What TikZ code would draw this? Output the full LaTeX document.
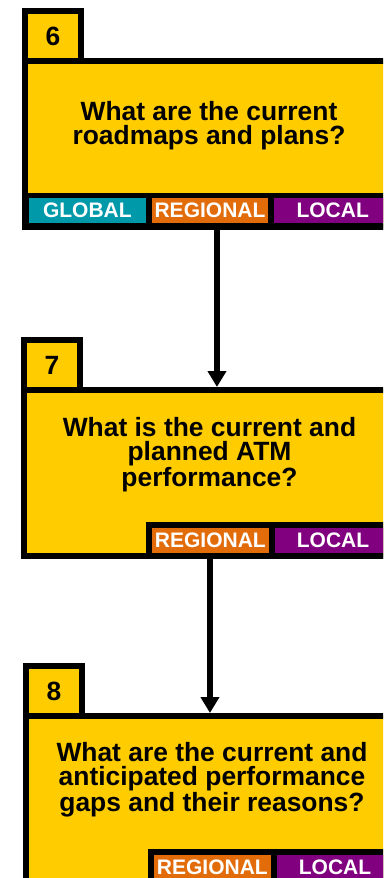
\documentclass[tikz,border=0pt]{standalone}
\usepackage{fontspec}
\setmainfont{Liberation Sans}
\usetikzlibrary{arrows.meta, positioning}

\definecolor{boxyellow}{HTML}{FFCC00}
\definecolor{tagteal}{HTML}{0099AA}
\definecolor{tagorange}{HTML}{E36C0A}
\definecolor{tagpurple}{HTML}{800080}

\begin{document}
\begin{tikzpicture}[
    x=0.75pt, y=-0.75pt,
    qbox/.style={draw, line width=4.5pt, fill=boxyellow, inner sep=0pt, anchor=north west, minimum width=276.75pt, minimum height=124.5pt},
    tab/.style={draw, line width=4.5pt, fill=boxyellow, inner sep=0pt, anchor=north west, minimum width=42pt, minimum height=37.5pt, font=\fontsize{19.8}{18}\selectfont\bfseries},
    question/.style={align=center, font=\fontsize{19.8}{18}\selectfont\bfseries},
    strip/.style={fill=black, inner sep=0pt, outer sep=0pt, anchor=north west, minimum width=281.25pt},
    tag/.style={fill=#1, text=white, inner sep=0pt, outer sep=0pt, minimum width=87.5pt, minimum height=18.5pt, font=\fontsize{15.75}{18}\selectfont\bfseries},
    arrow/.style={-{Triangle[width=13.5pt,length=12pt]}, line width=4.2pt}
]
\useasboundingbox (0,0) rectangle (383,878);
\clip (0,0) rectangle (383,878);

% === STEP 6 ===
\node[tab] (tab6) at (22,8) {6};
\node[qbox] (q6) at (22,58) {};
\node[strip, minimum height=27.75pt] (strip6) at (22,193) {};
\node[tag=tagteal, anchor=north west] (glob6) at (29,198) {GLOBAL};
\node[tag=tagorange, right=4.5pt of glob6] (reg6) {REGIONAL};
\node[tag=tagpurple, right=4.5pt of reg6] (loc6) {LOCAL};
\node[question] (txt6) at (209,126) {What are the current\\roadmaps and plans?};

% === STEP 7 ===
\node[tab] (tab7) at (21,337) {7};
\node[qbox] (q7) at (21,387) {};
\node[strip, minimum height=27.75pt] (strip7) at (146,522) {};
\node[tag=tagorange, anchor=north west] (reg7) at (152,528) {REGIONAL};
\node[tag=tagpurple, right=4.5pt of reg7] (loc7) {LOCAL};
\node[question] (txt7) at (209.5,454.5) {What is the current and\\planned ATM\\performance?};

% === STEP 8 ===
\node[tab] (tab8) at (23,663) {8};
\node[qbox] (q8) at (23,713) {};
\node[strip, minimum height=27.75pt] (strip8) at (148,849) {};
\node[tag=tagorange, anchor=north west] (reg8) at (154,855) {REGIONAL};
\node[tag=tagpurple, right=4.5pt of reg8] (loc8) {LOCAL};
\node[question] (txt8) at (212,780) {What are the current and\\anticipated performance\\gaps and their reasons?};

% === ARROWS ===
\draw[arrow] ([xshift=5.6pt]q6.south) -- ([xshift=5.6pt]q6.south |- q7.north);
\draw[arrow] ([xshift=1.1pt]q7.south) -- ([xshift=1.1pt]q7.south |- q8.north);

\end{tikzpicture}
\end{document}
